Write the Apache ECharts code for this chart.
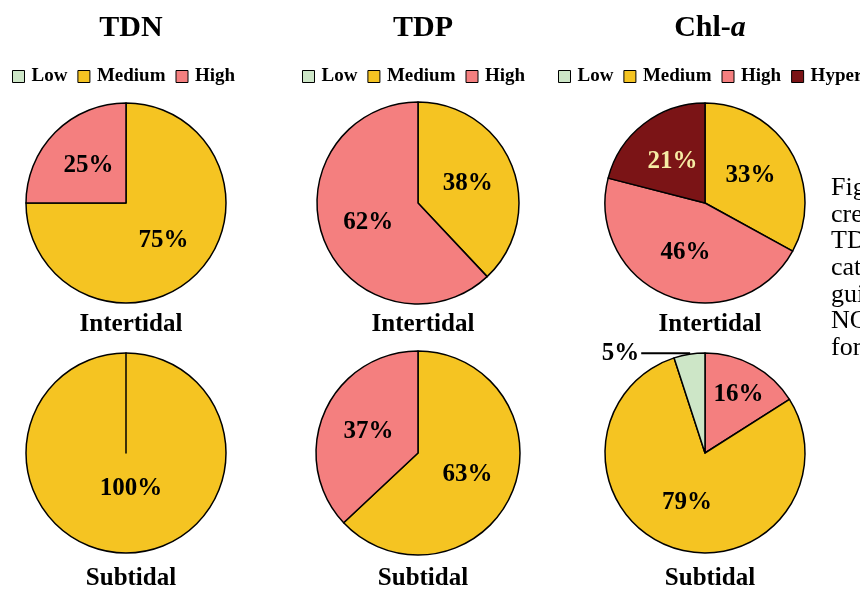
<!DOCTYPE html>
<html><head><meta charset="utf-8">
<script src="https://cdn.jsdelivr.net/npm/echarts@6/dist/echarts.min.js"></script>
<style>html,body{margin:0;padding:0;background:#fff}#c{width:860px;height:592px}</style>
</head><body><div id="c"></div>
<script>
// Data
const panels = ['TDN', 'TDP', 'Chl-a'];
const rows = ['Intertidal', 'Subtidal'];
const legendTDN = ['Low', 'Medium', 'High'];
const legendTDP = ['Low', 'Medium', 'High'];
const legendChl = ['Low', 'Medium', 'High', 'Hyper'];
// slices in clockwise order from 12 o'clock
const tdnIntNames = ['Medium', 'High'];
const tdnIntValues = [75, 25];
const tdnSubNames = ['Medium', 'High'];
const tdnSubValues = [100, 0];
const tdpIntNames = ['Medium', 'High'];
const tdpIntValues = [38, 62];
const tdpSubNames = ['Medium', 'High'];
const tdpSubValues = [63, 37];
const chlIntNames = ['Medium', 'High', 'Hyper'];
const chlIntValues = [33, 46, 21];
const chlSubNames = ['High', 'Medium', 'Low'];
const chlSubValues = [16, 79, 5];
const captionLines = ['Figure', 'credit', 'TDN', 'categ', 'guide', 'NOAA', 'for'];

const colors = { Low: '#cde6c7', Medium: '#f5c422', High: '#f47f7f', Hyper: '#7b1416' };
const FONT = '"Liberation Serif", "Times New Roman", serif';

function mk(names, values) {
  return names.map((n, i) => ({ name: n, value: values[i], itemStyle: { color: colors[n] } }));
}

const colX = [126, 418, 705];
const rowY = [203, 453];

function pie(ci, ri, names, values, extra) {
  const s = {
    type: 'pie',
    center: [colX[ci], rowY[ri]],
    radius: [0, 100],
    startAngle: 90,
    clockwise: true,
    avoidLabelOverlap: false,
    animation: false,
    itemStyle: { borderColor: '#000', borderWidth: 1.5 },
    label: {
      show: true, position: 'inside',
      formatter: p => p.value > 0 ? p.value + '%' : '',
      fontFamily: FONT, fontWeight: 'bold', fontSize: 25, color: '#000'
    },
    labelLine: { show: false },
    emphasis: { disabled: true },
    data: mk(names, values)
  };
  return Object.assign(s, extra || {});
}

const chlIntData = mk(chlIntNames, chlIntValues);
const chlSubData = mk(chlSubNames, chlSubValues);

const series = [
  pie(0, 0, tdnIntNames, tdnIntValues),
  pie(0, 1, tdnSubNames, tdnSubValues),
  pie(1, 0, tdpIntNames, tdpIntValues, { radius: [0, 101] }),
  pie(1, 1, tdpSubNames, tdpSubValues, { radius: [0, 102] }),
  pie(2, 0, chlIntNames, chlIntValues),
  pie(2, 1, chlSubNames, chlSubValues)
];
// TDN subtidal label nudged up as in the figure
series[1].label.offset = [5, -17];
// Chl-a intertidal: light label on the dark Hyper slice
series[4].data = chlIntData.map(d => d.name === 'Hyper'
  ? Object.assign({}, d, { label: { color: '#f6eca4' } }) : d);
// Chl-a subtidal: Low slice labelled outside with a leader line, High label nudged
series[5].data = chlSubData.map(d => {
  if (d.name === 'Low') return Object.assign({}, d, {
    label: { position: 'outside', color: '#000', distanceToLabelLine: 2 },
    labelLine: { show: true, length: 1, length2: 48, lineStyle: { color: '#000', width: 2 } }
  });
  if (d.name === 'High') return Object.assign({}, d, { label: { offset: [8, -12] } });
  return d;
});

const legendBase = {
  orient: 'horizontal', top: 67, padding: 0, width: 320, itemWidth: 12, itemHeight: 12, itemGap: 10,
  icon: 'rect', selectedMode: false,
  itemStyle: { borderColor: '#000', borderWidth: 1 },
  textStyle: { fontFamily: FONT, fontWeight: 'bold', fontSize: 19, color: '#000', padding: [0, 0, 0, 2] }
};

const titleStyle = { fontFamily: FONT, fontWeight: 'bold', fontSize: 30, color: '#000' };
const subStyle = { fontFamily: FONT, fontWeight: 'bold', fontSize: 25, color: '#000' };

const titles = [];
panels.forEach((p, i) => {
  if (p === 'Chl-a') {
    titles.push({ text: '{b|Chl-}{i|a}', left: colX[i], top: 8, textAlign: 'center',
      textStyle: Object.assign({}, titleStyle, { rich: {
        b: { fontFamily: FONT, fontWeight: 'bold', fontSize: 30, color: '#000' },
        i: { fontFamily: FONT, fontWeight: 'bold', fontStyle: 'italic', fontSize: 30, color: '#000' } } }) });
  } else {
    titles.push({ text: p, left: colX[i], top: 8, textAlign: 'center', textStyle: titleStyle });
  }
  titles.push({ text: rows[0], left: colX[i], top: 307, textAlign: 'center', textStyle: subStyle });
  titles.push({ text: rows[1], left: colX[i], top: 561, textAlign: 'center', textStyle: subStyle });
});

const option = {
  backgroundColor: '#fff',
  animation: false,
  title: titles,
  legend: [
    Object.assign({}, legendBase, { left: 12, data: legendTDN }),
    Object.assign({}, legendBase, { left: 302, data: legendTDP }),
    Object.assign({}, legendBase, { left: 558, data: legendChl })
  ],
  graphic: captionLines.map((t, i) => ({
    type: 'text', left: 831, top: 175 + i * 26.7,
    style: { text: t, fontFamily: FONT, fontSize: 26, fill: '#000' }
  })),
  series: series
};

const chart = echarts.init(document.getElementById('c'), null, { renderer: 'canvas' });
chart.setOption(option);
</script></body></html>
